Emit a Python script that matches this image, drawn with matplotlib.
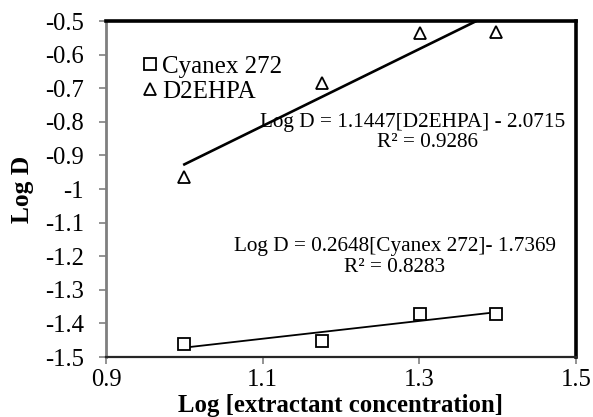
import matplotlib
matplotlib.use("Agg")
import matplotlib.pyplot as plt
import numpy as np

# data
log_conc = [1.0, 1.176, 1.301, 1.398]
cyanex = [-1.462, -1.452, -1.372, -1.372]
d2ehpa = [-0.963, -0.684, -0.535, -0.532]

# fitted lines as printed on the chart
fit_cyanex = (0.2648, -1.7369)
fit_d2ehpa = (1.1447, -2.0715)

x_ticks = [0.9, 1.1, 1.3, 1.5]
y_ticks = [-1.5, -1.4, -1.3, -1.2, -1.1, -1.0, -0.9, -0.8, -0.7, -0.6, -0.5]
y_labels = ["-1.5", "-1.4", "-1.3", "-1.2", "-1.1", "-1", "-0.9", "-0.8", "-0.7", "-0.6", "-0.5"]

plt.rcParams["font.family"] = ["Liberation Serif", "DejaVu Serif"]

fig = plt.figure(figsize=(5.93, 4.17), dpi=100)
ax = fig.add_axes([106 / 593, 1 - 357 / 417, 470 / 593, 336 / 417])

ax.plot(log_conc, cyanex, linestyle="none", marker="s", markersize=8.5,
        markerfacecolor="white", markeredgecolor="black", markeredgewidth=1.3,
        label="Cyanex 272", zorder=3)
ax.plot(log_conc, d2ehpa, linestyle="none", marker="^", markersize=8.5,
        markerfacecolor="white", markeredgecolor="black", markeredgewidth=1.3,
        label="D2EHPA", zorder=3)

xs = np.array([log_conc[0], log_conc[-1]])
ax.plot(xs, fit_cyanex[0] * xs + fit_cyanex[1], color="black", lw=1.3)
ax.plot(xs, fit_d2ehpa[0] * xs + fit_d2ehpa[1], color="black", lw=1.9)

eq_size = 15.3
ax.text(1.292, -0.8006, "Log D = 1.1447[D2EHPA] - 2.0715", ha="center", va="center", fontsize=eq_size)
ax.text(1.311, -0.862, "R² = 0.9286", ha="center", va="center", fontsize=eq_size)
ax.text(1.269, -1.1726, "Log D = 0.2648[Cyanex 272]- 1.7369", ha="center", va="center", fontsize=eq_size)
ax.text(1.269, -1.235, "R² = 0.8283", ha="center", va="center", fontsize=eq_size)

ax.set_xlim(0.9, 1.5)
ax.set_ylim(-1.5, -0.5)
ax.set_xticks(x_ticks)
ax.set_xticklabels([f"{t:.1f}" for t in x_ticks])
ax.set_yticks(y_ticks)
ax.set_yticklabels(y_labels)
ax.tick_params(labelsize=17.7, direction="out", length=5, width=1.2, color="#808080")
ax.tick_params(axis="y", pad=11)
ax.tick_params(axis="x", pad=4)

ax.spines["left"].set_color("#7f7f7f")
ax.spines["left"].set_linewidth(2)
ax.spines["bottom"].set_color("#262626")
ax.spines["bottom"].set_linewidth(1.6)
for side in ["top", "right"]:
    ax.spines[side].set_color("black")
    ax.spines[side].set_linewidth(2.6)

fig.text(340 / 593, 5 / 417, "Log [extractant concentration]", ha="center", va="baseline",
         fontsize=17.8, fontweight="bold")
fig.text(22 / 593, 1 - 189 / 417, "Log D", ha="center", va="center", rotation=90,
         fontsize=18.4, fontweight="bold")

leg = ax.legend(loc="upper left", bbox_to_anchor=(0.08, 0.897), frameon=False, fontsize=18,
                handlelength=0.5, handletextpad=0.25, borderaxespad=0, borderpad=0,
                labelspacing=0.1, markerscale=0.95)

fig.savefig("out.png", dpi=100)
